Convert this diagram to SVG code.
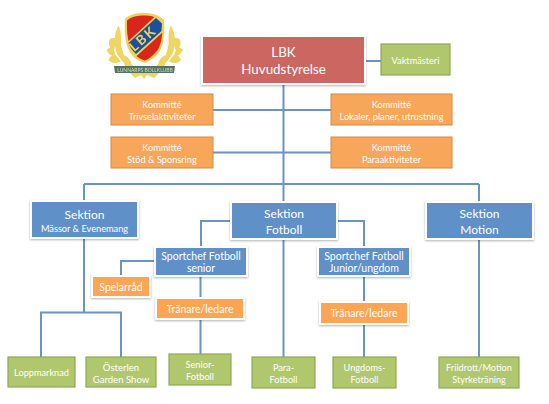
<svg xmlns="http://www.w3.org/2000/svg" width="549" height="404" viewBox="0 0 549 404">
<defs>
<filter id="sh" x="-10%" y="-15%" width="120%" height="135%"><feDropShadow dx="0" dy="1" stdDeviation="1" flood-color="#000" flood-opacity="0.3"/></filter>
<filter id="soft" x="-5%" y="-5%" width="110%" height="110%"><feGaussianBlur stdDeviation="0.4"/></filter>
<g id="wreath" stroke="#efd663" stroke-width="1.600" stroke-linejoin="round">
<path d="M-26 -14C-30 -6 -30 4 -27 10C-24 5 -23 -6 -26 -14Z"/>
<path d="M-30 -2C-36 -4 -36 4 -32 9C-30 7 -29 2 -30 -2Z"/>
<path d="M-28 6C-24 6 -22 10 -21 17C-25 16 -28 12 -28 6Z"/>
<path d="M-32 8C-35 7 -36 8 -37 9C-35 13 -33 15 -30 14Z"/>
<path d="M-24 15C-20 14 -16 17 -14 22C-19 23 -23 20 -24 15Z"/>
<path d="M-29 15C-32 14 -34 16 -35 19C-32 22 -29 22 -25 20Z"/>
<path d="M-20 22C-17 22 -12 24 -9 28C-14 29 -18 27 -20 22Z"/>
<path d="M-29 -4L-26 -4L-22 14L-12 26L-14 27L-25 15Z"/>
</g>
</defs>
<style>
text{font-family:Lato,"Open Sans","DejaVu Sans",sans-serif;fill:#fff;text-anchor:middle}
.c path{fill:none;stroke:#6a94c6;stroke-width:2}
.w{fill:#fff;filter:url(#sh)}
.red{fill:#cb6661}
.blue{fill:#5f90c8}
.org{fill:#fca555}
.orgb{fill:#f8a65a;stroke:#d18a48;stroke-width:1}
.grn{fill:#b0c76e;stroke:#8fa854;stroke-width:1.2}
.s9{font-size:9.200px}.s10{font-size:10.500px}.s11{font-size:12px}.s12{font-size:13.400px}.s95{font-size:9.600px}
</style>
<g id="logo" filter="url(#soft)">
<use href="#wreath" x="144.500" y="41" fill="#efd663"/>
<use href="#wreath" transform="translate(145 41) scale(-1 1)" fill="#efd663"/>
<path d="M129 72L160 72L154 78L147 75L144 79L141 75L135 78Z" fill="#efd663"/>
<path d="M114 66L175 66L174 73L115 73Z" fill="#4f7568"/>
<text x="145" y="71.500" style="font-size:5px;fill:#d9dcb0">LUNNARPS BOLLKLUBB</text>
<path d="M144 13C137 13 129 14 125 19C124 32 125 47 132 55C136 60 141 62 145 63C150 61 156 57 160 51C164 43 165 30 164 20C158 14 151 13 144 13Z" fill="#f0d25a"/>
<path d="M144 15.500C138 15.500 131 16.500 127 20.500C126.500 33 128 46 134 53.500C138 58 142 60 145 60.500C149 59 154 55 158 49.500C162 43 163 31 162 21.500C157 16.500 150 15.500 144 15.500Z" fill="#d9281e"/>
<path d="M126.500 43L156 15.500L164 22L163 32L136 56.500C131 53 128 48 126.500 43Z" fill="#f0d25a"/>
<path d="M128.500 43L156 18L162 23.500L161.500 31L136 54C132.500 51 130 47 128.500 43Z" fill="#1c4f9c"/>
<text transform="translate(146 42) rotate(-41)" style="font-size:13.500px;font-weight:700;fill:#f0d25a;letter-spacing:2px">LBK</text>
</g>
<g class="c">
<path d="M283.500 83V203M84 184H479M364 61H381M213 110H331M213 152.500H331"/>
<path d="M84 184V202M479 184V203M84 237V312.500M41 357V312.500H121V357"/>
<path d="M232 221H201V248M156 261H121V277M200.500 275V299M200.500 318V354"/>
<path d="M283.500 238V357M336 221H364V248M364 275V303M364 323V357M479 238V357"/>
</g>
<g id="huvudstyrelse"><rect class="w" x="201" y="35" width="165" height="50"/><rect class="red" x="203" y="37" width="161" height="46"/><text class="s12" x="283.500" y="57">LBK</text><text class="s12" x="283.500" y="74">Huvudstyrelse</text></g>
<g id="vaktmasteri"><rect class="grn" x="381" y="44" width="69" height="31"/><text class="s9" x="415.500" y="64">Vaktmästeri</text></g>
<g id="trivsel"><rect class="orgb" x="111" y="94" width="102" height="31"/><text class="s9" x="162" y="108">Kommitté</text><text class="s9" x="162" y="120">Trivselaktiviteter</text></g>
<g id="lokaler"><rect class="orgb" x="331" y="94" width="121" height="31"/><text class="s9" x="391.500" y="108">Kommitté</text><text class="s9" x="391.500" y="120">Lokaler, planer, utrustning</text></g>
<g id="stod"><rect class="orgb" x="111" y="137" width="102" height="31"/><text class="s9" x="162" y="151">Kommitté</text><text class="s9" x="162" y="163">Stöd &amp; Sponsring</text></g>
<g id="para-kommitte"><rect class="orgb" x="331" y="137" width="121" height="31"/><text class="s9" x="391.500" y="151">Kommitté</text><text class="s9" x="391.500" y="163">Paraaktiviteter</text></g>
<g id="sektion-massor"><rect class="w" x="30" y="200" width="109" height="39"/><rect class="blue" x="32" y="202" width="105" height="35"/><text class="s11" x="84.500" y="219">Sektion</text><text class="s9" x="84.500" y="232">Mässor &amp; Evenemang</text></g>
<g id="sektion-fotboll"><rect class="w" x="230" y="201" width="108" height="39"/><rect class="blue" x="232" y="203" width="104" height="35"/><text class="s11" x="284" y="218">Sektion</text><text class="s11" x="284" y="234">Fotboll</text></g>
<g id="sektion-motion"><rect class="w" x="425" y="201" width="109" height="39"/><rect class="blue" x="427" y="203" width="105" height="35"/><text class="s11" x="479.500" y="218">Sektion</text><text class="s11" x="479.500" y="234">Motion</text></g>
<g id="sportchef-senior"><rect class="w" x="154" y="246" width="94" height="31"/><rect class="blue" x="156" y="248" width="90" height="27"/><text class="s10" x="201" y="259.500">Sportchef Fotboll</text><text class="s10" x="201" y="272">senior</text></g>
<g id="sportchef-junior"><rect class="w" x="317" y="246" width="94" height="31"/><rect class="blue" x="319" y="248" width="90" height="27"/><text class="s10" x="364" y="259.500">Sportchef Fotboll</text><text class="s10" x="364" y="272">Junior/ungdom</text></g>
<g id="spelarrad"><rect class="w" x="91" y="275" width="60" height="23"/><rect class="org" x="93" y="277" width="56" height="19"/><text class="s10" x="121" y="291">Spelarråd</text></g>
<g id="tranare-senior"><rect class="w" x="155" y="297" width="90" height="23"/><rect class="org" x="157" y="299" width="86" height="19"/><text class="s10" x="200" y="313">Tränare/ledare</text></g>
<g id="tranare-junior"><rect class="w" x="319" y="301" width="90" height="24"/><rect class="org" x="321" y="303" width="86" height="20"/><text class="s10" x="364" y="317">Tränare/ledare</text></g>
<g id="loppmarknad"><rect class="grn" x="8" y="357" width="67" height="30"/><text class="s9" x="41.500" y="376">Loppmarknad</text></g>
<g id="osterlen"><rect class="grn" x="86" y="357" width="70" height="30"/><text class="s95" x="121" y="371">Österlen</text><text class="s95" x="121" y="383">Garden Show</text></g>
<g id="senior"><rect class="grn" x="169" y="354" width="62" height="31"/><text class="s9" x="200" y="368">Senior-</text><text class="s9" x="200" y="380">Fotboll</text></g>
<g id="para"><rect class="grn" x="252" y="357" width="63" height="31"/><text class="s9" x="283.500" y="371">Para-</text><text class="s9" x="283.500" y="383">Fotboll</text></g>
<g id="ungdoms"><rect class="grn" x="333" y="357" width="63" height="31"/><text class="s9" x="364.500" y="371">Ungdoms-</text><text class="s9" x="364.500" y="383">Fotboll</text></g>
<g id="friidrott"><rect class="grn" x="439" y="357" width="80" height="31"/><text class="s9" x="479" y="371">Friidrott/Motion</text><text class="s9" x="479" y="383">Styrketräning</text></g>
</svg>
